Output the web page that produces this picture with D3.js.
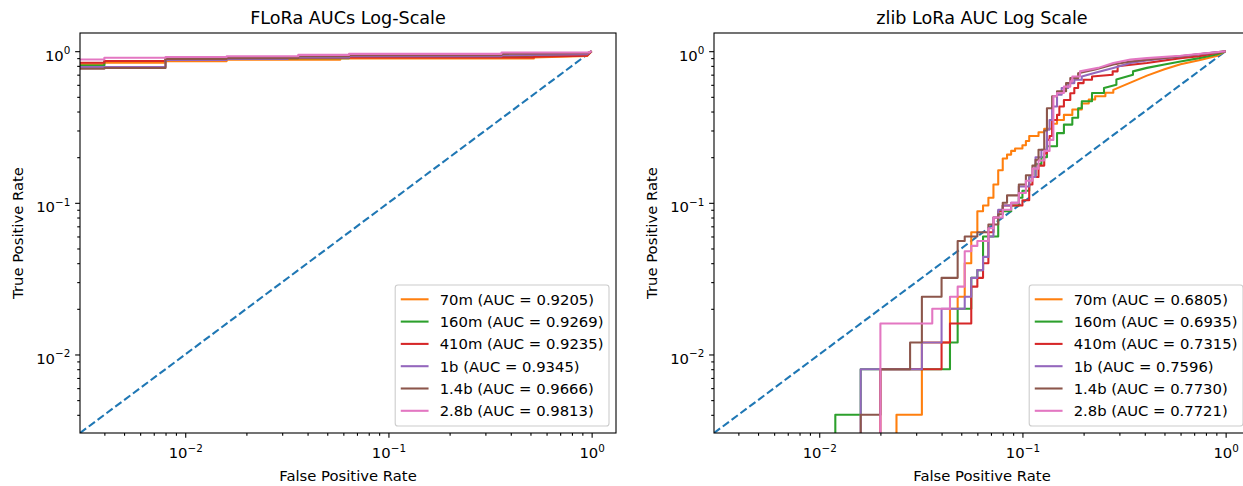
<!DOCTYPE html>
<html>
<head>
<meta charset="utf-8">
<script src="https://cdn.jsdelivr.net/npm/d3@7"></script>
<style>
  body { margin: 0; background: #fff; }
  svg { display: block; }
  text { font-family: "DejaVu Sans", sans-serif; fill: #000; }
</style>
</head>
<body>
<svg id="fig" width="1243" height="486"></svg>
<script>
// ---- data ---------------------------------------------------------------
const models = ["70m", "160m", "410m", "1b", "1.4b", "2.8b"];
const colors = ["#ff7f0e", "#2ca02c", "#d62728", "#9467bd", "#8c564b", "#e377c2"];
const floraAUC = [0.9205, 0.9269, 0.9235, 0.9345, 0.9666, 0.9813];
const zlibAUC  = [0.6805, 0.6935, 0.7315, 0.7596, 0.7730, 0.7721];
const chanceLine = [[0, 0], [1, 1]];
const majorTicks = [0.01, 0.1, 1];

// ROC vertices [fpr, tpr] — FLoRa
const flora70m  = [[0,0.82],[0.004,0.82],[0.004,0.84],[0.008,0.84],[0.008,0.86],[0.016,0.86],[0.016,0.88],[0.058,0.88],[0.058,0.895],[0.52,0.895],[0.52,0.91],[0.95,0.93],[1,1]];
const flora160m = [[0,0.805],[0.004,0.805],[0.004,0.862],[0.008,0.862],[0.008,0.895],[0.016,0.895],[0.016,0.9],[0.064,0.9],[0.064,0.915],[0.36,0.915],[0.36,0.925],[0.95,0.945],[1,1]];
const flora410m = [[0,0.838],[0.004,0.838],[0.004,0.862],[0.008,0.862],[0.008,0.885],[0.016,0.885],[0.016,0.9],[0.032,0.9],[0.032,0.905],[0.064,0.905],[0.064,0.91],[0.52,0.91],[0.52,0.92],[0.95,0.935],[1,1]];
const flora1b   = [[0,0.785],[0.008,0.785],[0.008,0.875],[0.016,0.875],[0.016,0.89],[0.032,0.89],[0.032,0.91],[0.064,0.91],[0.064,0.925],[0.36,0.925],[0.36,0.94],[0.95,0.955],[1,1]];
const flora14b  = [[0,0.766],[0.004,0.766],[0.004,0.775],[0.008,0.775],[0.008,0.89],[0.016,0.89],[0.016,0.9],[0.036,0.9],[0.036,0.925],[0.064,0.925],[0.064,0.94],[0.36,0.94],[0.36,0.96],[0.95,0.97],[1,1]];
const flora28b  = [[0,0.882],[0.004,0.882],[0.004,0.904],[0.008,0.904],[0.008,0.915],[0.016,0.915],[0.016,0.925],[0.036,0.925],[0.036,0.945],[0.064,0.945],[0.064,0.96],[0.36,0.96],[0.36,0.98],[0.97,0.98],[1,1]];

// ROC vertices [fpr, tpr] — zlib
const zlib70m = [[0,0],[0.024,0],[0.024,0.004],[0.032,0.004],[0.032,0.012],[0.044,0.012],[0.044,0.02],[0.048,0.02],[0.048,0.024],[0.052,0.024],[0.052,0.04],[0.056,0.04],[0.056,0.064],[0.06,0.064],[0.06,0.088],[0.064,0.088],[0.064,0.096],[0.068,0.096],[0.068,0.108],[0.072,0.108],[0.072,0.132],[0.076,0.132],[0.076,0.164],[0.08,0.164],[0.08,0.196],[0.084,0.196],[0.084,0.208],[0.088,0.208],[0.088,0.22],[0.092,0.22],[0.092,0.228],[0.1,0.228],[0.1,0.24],[0.104,0.24],[0.104,0.256],[0.108,0.256],[0.108,0.276],[0.12,0.276],[0.12,0.292],[0.128,0.292],[0.128,0.308],[0.14,0.308],[0.14,0.332],[0.148,0.332],[0.148,0.352],[0.16,0.352],[0.16,0.38],[0.176,0.38],[0.176,0.412],[0.196,0.412],[0.196,0.452],[0.212,0.452],[0.212,0.48],[0.228,0.48],[0.228,0.504],[0.256,0.504],[0.256,0.532],[0.28,0.532],[0.28,0.556],[0.34,0.62],[0.41,0.69],[0.5,0.76],[0.6,0.82],[0.74,0.87],[0.9,0.93],[1,1]];
const zlib160m = [[0,0],[0.012,0],[0.012,0.004],[0.016,0.004],[0.016,0.008],[0.044,0.008],[0.044,0.012],[0.048,0.012],[0.048,0.02],[0.056,0.02],[0.056,0.032],[0.06,0.032],[0.06,0.036],[0.064,0.036],[0.064,0.06],[0.076,0.06],[0.076,0.088],[0.088,0.088],[0.088,0.096],[0.096,0.096],[0.096,0.108],[0.1,0.108],[0.1,0.12],[0.108,0.12],[0.108,0.148],[0.116,0.148],[0.116,0.18],[0.124,0.18],[0.124,0.2],[0.132,0.2],[0.132,0.236],[0.148,0.236],[0.148,0.288],[0.16,0.288],[0.16,0.328],[0.176,0.328],[0.176,0.364],[0.188,0.364],[0.188,0.42],[0.196,0.42],[0.196,0.468],[0.22,0.468],[0.22,0.53],[0.252,0.53],[0.252,0.572],[0.29,0.6],[0.29,0.65],[0.35,0.7],[0.35,0.736],[0.41,0.776],[0.5,0.816],[0.6,0.856],[0.74,0.9],[0.9,0.95],[1,1]];
const zlib410m = [[0,0],[0.02,0],[0.02,0.008],[0.04,0.008],[0.04,0.012],[0.044,0.012],[0.044,0.016],[0.056,0.016],[0.056,0.028],[0.06,0.028],[0.06,0.032],[0.064,0.032],[0.064,0.04],[0.068,0.04],[0.068,0.064],[0.072,0.064],[0.072,0.08],[0.076,0.08],[0.076,0.088],[0.08,0.088],[0.08,0.096],[0.1,0.096],[0.1,0.104],[0.108,0.104],[0.108,0.132],[0.112,0.132],[0.112,0.148],[0.12,0.148],[0.12,0.176],[0.128,0.176],[0.128,0.212],[0.132,0.212],[0.132,0.26],[0.136,0.26],[0.136,0.276],[0.14,0.276],[0.14,0.352],[0.148,0.352],[0.148,0.38],[0.152,0.38],[0.152,0.432],[0.16,0.432],[0.16,0.476],[0.172,0.476],[0.172,0.528],[0.18,0.528],[0.18,0.572],[0.188,0.572],[0.188,0.616],[0.2,0.616],[0.2,0.648],[0.22,0.648],[0.22,0.68],[0.278,0.7],[0.278,0.736],[0.294,0.736],[0.294,0.796],[0.41,0.836],[0.6,0.9],[0.74,0.925],[1,1]];
const zlib1b = [[0,0],[0.016,0],[0.016,0.008],[0.032,0.008],[0.032,0.012],[0.04,0.012],[0.04,0.02],[0.052,0.02],[0.052,0.024],[0.056,0.024],[0.056,0.032],[0.06,0.032],[0.06,0.036],[0.064,0.036],[0.064,0.044],[0.068,0.044],[0.068,0.06],[0.072,0.06],[0.072,0.08],[0.076,0.08],[0.076,0.09],[0.08,0.09],[0.08,0.096],[0.088,0.096],[0.088,0.1],[0.096,0.1],[0.096,0.128],[0.108,0.128],[0.108,0.148],[0.116,0.148],[0.116,0.2],[0.124,0.2],[0.124,0.224],[0.132,0.224],[0.132,0.304],[0.136,0.304],[0.136,0.352],[0.14,0.352],[0.14,0.432],[0.148,0.432],[0.148,0.516],[0.156,0.516],[0.156,0.572],[0.168,0.572],[0.168,0.616],[0.18,0.616],[0.18,0.648],[0.196,0.648],[0.196,0.68],[0.228,0.72],[0.28,0.776],[0.34,0.836],[0.41,0.87],[0.6,0.924],[1,1]];
const zlib14b = [[0,0],[0.016,0],[0.016,0.004],[0.02,0.004],[0.02,0.008],[0.028,0.008],[0.028,0.012],[0.032,0.012],[0.032,0.024],[0.04,0.024],[0.04,0.032],[0.048,0.032],[0.048,0.056],[0.052,0.056],[0.052,0.06],[0.06,0.06],[0.06,0.064],[0.068,0.064],[0.068,0.072],[0.076,0.072],[0.076,0.084],[0.08,0.084],[0.08,0.1],[0.084,0.1],[0.084,0.112],[0.096,0.112],[0.096,0.132],[0.104,0.132],[0.104,0.152],[0.112,0.152],[0.112,0.176],[0.116,0.176],[0.116,0.192],[0.12,0.192],[0.12,0.224],[0.128,0.224],[0.128,0.3],[0.132,0.3],[0.132,0.42],[0.14,0.42],[0.14,0.504],[0.148,0.504],[0.148,0.544],[0.164,0.544],[0.164,0.616],[0.172,0.616],[0.172,0.664],[0.188,0.664],[0.188,0.716],[0.228,0.756],[0.28,0.816],[0.34,0.856],[0.41,0.88],[0.6,0.924],[1,1]];
const zlib28b = [[0,0],[0.02,0],[0.02,0.016],[0.036,0.016],[0.036,0.02],[0.044,0.02],[0.044,0.024],[0.048,0.024],[0.048,0.028],[0.052,0.028],[0.052,0.048],[0.056,0.048],[0.056,0.052],[0.06,0.052],[0.06,0.056],[0.068,0.056],[0.068,0.068],[0.072,0.068],[0.072,0.08],[0.08,0.08],[0.08,0.09],[0.088,0.09],[0.088,0.1],[0.096,0.1],[0.096,0.116],[0.104,0.116],[0.104,0.14],[0.112,0.14],[0.112,0.168],[0.12,0.168],[0.12,0.19],[0.128,0.19],[0.128,0.22],[0.136,0.22],[0.136,0.26],[0.142,0.26],[0.142,0.504],[0.148,0.504],[0.148,0.53],[0.16,0.53],[0.16,0.584],[0.172,0.584],[0.172,0.632],[0.176,0.632],[0.176,0.68],[0.192,0.68],[0.192,0.736],[0.236,0.776],[0.28,0.836],[0.34,0.88],[0.41,0.9],[0.6,0.932],[1,1]];

// ---- layout -------------------------------------------------------------
const svg = d3.select("#fig");
const FS = 14.8;
const plotTop = 33, plotBottom = 433, plotWidth = 536;
const minRate = 0.004;      // smallest non-zero rate (1 / 250)
const span = -Math.log10(minRate);
const domain = [10 ** (Math.log10(minRate) - 0.05 * span), 10 ** (0.05 * span)];

const panels = [
  { title: "FLoRa AUCs Log-Scale", left: 80,
    series: [flora70m, flora160m, flora410m, flora1b, flora14b, flora28b], auc: floraAUC },
  { title: "zlib LoRa AUC Log Scale", left: 714,
    series: [zlib70m, zlib160m, zlib410m, zlib1b, zlib14b, zlib28b], auc: zlibAUC }
];

function minorTicks(lo, hi) {
  const out = [];
  for (let e = -4; e <= 1; e++)
    for (let k = 2; k <= 9; k++) {
      const v = k * 10 ** e;
      if (v >= lo && v <= hi) out.push(v);
    }
  return out;
}

function powerLabel(sel, v) {
  const e = Math.round(Math.log10(v));
  sel.append("tspan").text("10");
  sel.append("tspan").attr("dy", -6.5).attr("font-size", FS * 0.7)
     .text(e < 0 ? "\u2212" + (-e) : String(e));
}

panels.forEach((p, pi) => {
  const x = d3.scaleLog().domain(domain).range([p.left, p.left + plotWidth]);
  const y = d3.scaleLog().domain(domain).range([plotBottom, plotTop]);
  const g = svg.append("g");
  const clipId = "clip" + pi;
  svg.append("clipPath").attr("id", clipId).append("rect")
     .attr("x", p.left).attr("y", plotTop).attr("width", plotWidth).attr("height", plotBottom - plotTop);

  const line = d3.line()
    .x(d => x(Math.max(d[0], 1e-9)))
    .y(d => y(Math.max(d[1], 1e-9)));

  const plot = g.append("g").attr("clip-path", `url(#${clipId})`);
  plot.append("path").datum(chanceLine)
      .attr("d", line).attr("fill", "none").attr("stroke", "#1f77b4")
      .attr("stroke-width", 2.08).attr("stroke-dasharray", "7.7,3.33");
  p.series.forEach((s, i) => {
    plot.append("path").datum(s)
        .attr("d", line).attr("fill", "none").attr("stroke", colors[i])
        .attr("stroke-width", 2.08).attr("stroke-linejoin", "round");
  });

  // axes
  const minors = minorTicks(domain[0], domain[1]);
  const xMinor = g.append("g").attr("transform", `translate(0,${plotBottom})`)
    .call(d3.axisBottom(x).tickValues(minors).tickSize(2.78).tickSizeOuter(0).tickFormat(""));
  const xMajor = g.append("g").attr("transform", `translate(0,${plotBottom})`)
    .call(d3.axisBottom(x).tickValues(majorTicks).tickSize(4.86).tickSizeOuter(0).tickFormat(""));
  const yMinor = g.append("g").attr("transform", `translate(${p.left},0)`)
    .call(d3.axisLeft(y).tickValues(minors).tickSize(2.78).tickSizeOuter(0).tickFormat(""));
  const yMajor = g.append("g").attr("transform", `translate(${p.left},0)`)
    .call(d3.axisLeft(y).tickValues(majorTicks).tickSize(4.86).tickSizeOuter(0).tickFormat(""));
  [xMinor, xMajor, yMinor, yMajor].forEach(a => {
    a.select(".domain").remove();
    a.selectAll(".tick line").attr("stroke", "#000").attr("stroke-width", 1.1);
  });
  xMajor.selectAll(".tick").each(function (v) {
    const t = d3.select(this).append("text").attr("x", 0).attr("y", 25)
      .attr("text-anchor", "middle").attr("font-size", FS).attr("fill", "#000");
    powerLabel(t, v);
  });
  yMajor.selectAll(".tick").each(function (v) {
    const t = d3.select(this).append("text").attr("x", -9.7).attr("y", 9)
      .attr("text-anchor", "end").attr("font-size", FS).attr("fill", "#000");
    powerLabel(t, v);
  });

  // frame
  g.append("rect").attr("x", p.left).attr("y", plotTop)
   .attr("width", plotWidth).attr("height", plotBottom - plotTop)
   .attr("fill", "none").attr("stroke", "#000").attr("stroke-width", 1.1);

  // titles and axis labels
  const cx = p.left + plotWidth / 2;
  g.append("text").attr("x", cx).attr("y", 24).attr("text-anchor", "middle")
   .attr("font-size", 17.6).text(p.title);
  g.append("text").attr("x", cx).attr("y", 481).attr("text-anchor", "middle")
   .attr("font-size", FS).text("False Positive Rate");
  g.append("text").attr("transform", `translate(${p.left - 57},${(plotTop + plotBottom) / 2}) rotate(-90)`)
   .attr("text-anchor", "middle").attr("font-size", FS).text("True Positive Rate");

  // legend (lower right)
  const lg = g.append("g");
  const frame = lg.append("rect");
  const rowStep = 22.3, legH = 141;
  const legRight = p.left + plotWidth - 7, legBottom = plotBottom - 7, legTop = legBottom - legH;
  let maxW = 0;
  const texts = models.map((m, i) => {
    const t = lg.append("text").attr("font-size", FS)
      .attr("y", legTop + 14.3 + i * rowStep + 5.3)
      .text(`${m} (AUC = ${p.auc[i].toFixed(4)})`);
    maxW = Math.max(maxW, t.node().getComputedTextLength());
    return t;
  });
  const legW = 5.56 + 27.8 + 11.1 + maxW + 5.56;
  const legLeft = legRight - legW;
  frame.attr("x", legLeft).attr("y", legTop).attr("width", legW).attr("height", legH)
       .attr("rx", 2.8).attr("fill", "#fff").attr("fill-opacity", 0.8)
       .attr("stroke", "#cccccc").attr("stroke-width", 1.1);
  texts.forEach((t, i) => {
    t.attr("x", legLeft + 5.56 + 27.8 + 11.1);
    const cy = legTop + 14.3 + i * rowStep;
    lg.append("line").attr("x1", legLeft + 5.56).attr("x2", legLeft + 5.56 + 27.8)
      .attr("y1", cy).attr("y2", cy).attr("stroke", colors[i]).attr("stroke-width", 2.08);
  });
});
</script>
</body>
</html>
